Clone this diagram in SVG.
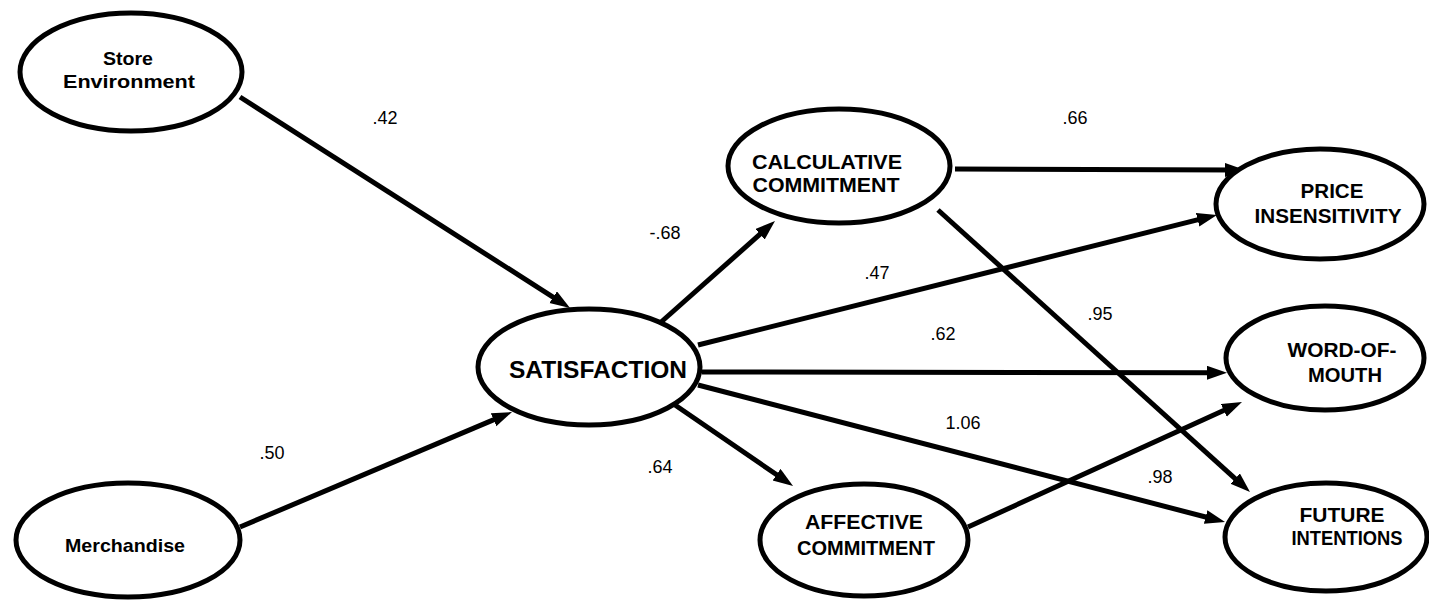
<svg xmlns="http://www.w3.org/2000/svg" width="1429" height="601" viewBox="0 0 1429 601">
<style>
.node ellipse{fill:#fff;stroke:#000;stroke-width:5}
.node text{font-family:"Liberation Sans",Arial,sans-serif;font-weight:bold;text-anchor:middle;fill:#000}
.conn line{stroke:#000;stroke-width:5;marker-end:url(#arr)}
.lbl{font-family:"Liberation Sans",Arial,sans-serif;font-size:18px;text-anchor:middle;fill:#000}
</style>
<defs>
<marker id="arr" markerUnits="userSpaceOnUse" markerWidth="22" markerHeight="16" refX="10" refY="7" orient="auto">
<path d="M0,0 L20,7 L0,14 z" fill="#000"/>
</marker>
</defs>
<rect width="1429" height="601" fill="#fff"/>
<g id="connectors" class="conn">
<line x1="240" y1="97" x2="561.6" y2="302.6"/>
<line x1="240" y1="527" x2="502.8" y2="415.9"/>
<line x1="660" y1="323" x2="767.5" y2="227.6"/>
<line x1="698" y1="345" x2="1207.3" y2="217.4"/>
<line x1="702" y1="372" x2="1217" y2="372.8"/>
<line x1="675" y1="405" x2="784.8" y2="480.3"/>
<line x1="698" y1="385" x2="1215.3" y2="519.5"/>
<line x1="955" y1="169" x2="1235" y2="170"/>
<line x1="938" y1="210" x2="1242.6" y2="485.3"/>
<line x1="968" y1="527" x2="1232.9" y2="406.2"/>
</g>
<g id="labels">
<text class="lbl" x="385" y="124">.42</text>
<text class="lbl" x="1075" y="124">.66</text>
<text class="lbl" x="665" y="239">-.68</text>
<text class="lbl" x="877" y="279">.47</text>
<text class="lbl" x="1100" y="320">.95</text>
<text class="lbl" x="943" y="340">.62</text>
<text class="lbl" x="272" y="459">.50</text>
<text class="lbl" x="963" y="429">1.06</text>
<text class="lbl" x="660" y="473">.64</text>
<text class="lbl" x="1160" y="483">.98</text>
</g>
<g id="store-environment" class="node">
<ellipse cx="131" cy="72" rx="111" ry="59"/>
<text x="128" y="65" font-size="18" textLength="50" lengthAdjust="spacingAndGlyphs">Store</text>
<text x="129" y="88" font-size="18" textLength="132" lengthAdjust="spacingAndGlyphs">Environment</text>
</g>
<g id="merchandise" class="node">
<ellipse cx="128" cy="540" rx="112" ry="57"/>
<text x="125" y="552" font-size="19" textLength="120" lengthAdjust="spacingAndGlyphs">Merchandise</text>
</g>
<g id="satisfaction" class="node">
<ellipse cx="589" cy="367" rx="111" ry="58"/>
<text x="598" y="378" font-size="24" textLength="178" lengthAdjust="spacingAndGlyphs">SATISFACTION</text>
</g>
<g id="calculative-commitment" class="node">
<ellipse cx="839" cy="166" rx="111" ry="57"/>
<text x="827" y="169" font-size="20" textLength="150" lengthAdjust="spacingAndGlyphs">CALCULATIVE</text>
<text x="826" y="192" font-size="20" textLength="147" lengthAdjust="spacingAndGlyphs">COMMITMENT</text>
</g>
<g id="affective-commitment" class="node">
<ellipse cx="864" cy="540" rx="104" ry="56"/>
<text x="864" y="529" font-size="20" textLength="118" lengthAdjust="spacingAndGlyphs">AFFECTIVE</text>
<text x="866" y="555" font-size="20" textLength="138" lengthAdjust="spacingAndGlyphs">COMMITMENT</text>
</g>
<g id="price-insensitivity" class="node">
<ellipse cx="1320" cy="204" rx="104" ry="55"/>
<text x="1332" y="198" font-size="20" textLength="63" lengthAdjust="spacingAndGlyphs">PRICE</text>
<text x="1328" y="223" font-size="20" textLength="147" lengthAdjust="spacingAndGlyphs">INSENSITIVITY</text>
</g>
<g id="word-of-mouth" class="node">
<ellipse cx="1325" cy="358" rx="99" ry="52"/>
<text x="1342" y="357" font-size="20" textLength="109" lengthAdjust="spacingAndGlyphs">WORD-OF-</text>
<text x="1345" y="382" font-size="20" textLength="74" lengthAdjust="spacingAndGlyphs">MOUTH</text>
</g>
<g id="future-intentions" class="node">
<ellipse cx="1326" cy="537" rx="101" ry="54"/>
<text x="1342" y="522" font-size="20" textLength="85" lengthAdjust="spacingAndGlyphs">FUTURE</text>
<text x="1347" y="545" font-size="20" textLength="111" lengthAdjust="spacingAndGlyphs">INTENTIONS</text>
</g>
</svg>
